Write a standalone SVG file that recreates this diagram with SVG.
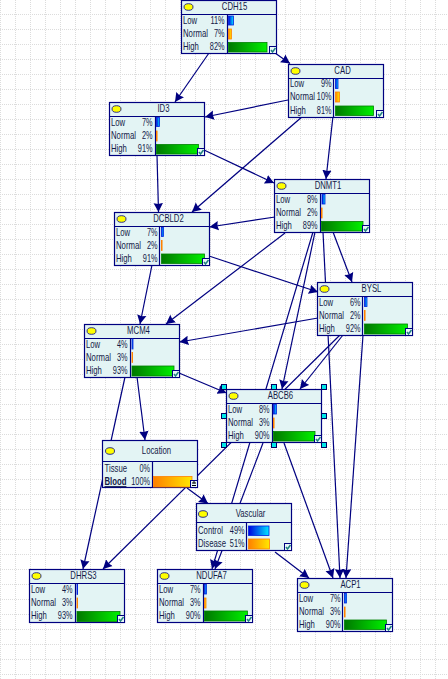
<svg xmlns="http://www.w3.org/2000/svg" width="448" height="679" viewBox="0 0 448 679">
<style>
text{font-family:"Liberation Sans",Arial,sans-serif;font-size:10.2px;fill:#141a48;transform-box:fill-box;transform-origin:0 50%;transform:scaleX(.76)}
.t{text-anchor:middle;transform-origin:50% 50%}
.p{text-anchor:end;transform-origin:100% 50%;transform:scaleX(.72)}
.f{fill:#e3f4f4;stroke:#000080;stroke-width:1.2}
.d{stroke:#000080;stroke-width:1.2;fill:none}
.e{fill:#ffff00;stroke:#000080;stroke-width:.8}
.bl{fill:url(#gb);stroke:#0020e0;stroke-width:.8}
.or{fill:url(#go);stroke:#ff8000;stroke-width:.8}
.gr{fill:url(#gg);stroke:#008000;stroke-width:.8}
.c line{stroke:#000080;stroke-width:1.2;marker-end:url(#a)}
.h{fill:#00e8e8;stroke:#000060;stroke-width:1}
.g{stroke:#dcdcdc;stroke-width:1;stroke-dasharray:1 1;fill:none}
</style>
<defs>
<linearGradient id="gb"><stop offset="0" stop-color="#0000e0"/><stop offset="1" stop-color="#00e8ff"/></linearGradient>
<linearGradient id="go"><stop offset="0" stop-color="#ff8000"/><stop offset="1" stop-color="#ffe800"/></linearGradient>
<linearGradient id="gg"><stop offset="0" stop-color="#007800"/><stop offset="1" stop-color="#00f000"/></linearGradient>
<marker id="a" markerUnits="userSpaceOnUse" markerWidth="11" markerHeight="11" refX="9" refY="5" orient="auto">
<path d="M0 0.3L9 5L0 9.7L1 5Z" fill="#000080"/>
</marker>
<g id="box3"><rect class="f" width="95" height="53"/><line class="d" x1="0" y1="14" x2="95" y2="14"/><ellipse class="e" cx="7" cy="6.5" rx="4.5" ry="3.3"/></g>
<g id="chk"><rect width="7" height="7" fill="#e8f8f8" stroke="#000080" stroke-width="1"/><path d="M1.5 3.5L3 5.5L6 1.5" fill="none" stroke="#208080" stroke-width="1.5"/></g>
</defs>
<rect width="448" height="679" fill="#fff"/>
<path class="g" d="M.5 0V679M15.5 0V679M30.5 0V679M45.5 0V679M60.5 0V679M75.5 0V679M90.5 0V679M105.5 0V679M120.5 0V679M135.5 0V679M150.5 0V679M165.5 0V679M180.5 0V679M195.5 0V679M210.5 0V679M225.5 0V679M240.5 0V679M255.5 0V679M270.5 0V679M285.5 0V679M300.5 0V679M315.5 0V679M330.5 0V679M345.5 0V679M360.5 0V679M375.5 0V679M390.5 0V679M405.5 0V679M420.5 0V679M435.5 0V679"/>
<path class="g" d="M0 14.5H448M0 29.5H448M0 44.5H448M0 59.5H448M0 74.5H448M0 89.5H448M0 104.5H448M0 119.5H448M0 134.5H448M0 149.5H448M0 164.5H448M0 179.5H448M0 194.5H448M0 209.5H448M0 224.5H448M0 239.5H448M0 254.5H448M0 269.5H448M0 284.5H448M0 299.5H448M0 314.5H448M0 329.5H448M0 344.5H448M0 359.5H448M0 374.5H448M0 389.5H448M0 404.5H448M0 419.5H448M0 434.5H448M0 449.5H448M0 464.5H448M0 479.5H448M0 494.5H448M0 509.5H448M0 524.5H448M0 539.5H448M0 554.5H448M0 569.5H448M0 584.5H448M0 599.5H448M0 614.5H448M0 629.5H448M0 644.5H448M0 659.5H448M0 674.5H448"/>
<g id="connectors" class="c">
<line x1="275" y1="53" x2="290" y2="63.5"/>
<line x1="209" y1="53" x2="175" y2="102"/>
<line x1="288" y1="100" x2="205" y2="117"/>
<line x1="333" y1="116" x2="326" y2="179"/>
<line x1="303" y1="116" x2="192" y2="212"/>
<line x1="157" y1="155" x2="158.5" y2="212"/>
<line x1="204" y1="150" x2="274" y2="183"/>
<line x1="275" y1="217" x2="209.5" y2="227"/>
<line x1="285" y1="233" x2="166" y2="324"/>
<line x1="333" y1="232" x2="352" y2="282"/>
<line x1="323" y1="232" x2="340" y2="578"/>
<line x1="313" y1="232" x2="212" y2="569"/>
<line x1="315" y1="232" x2="282" y2="389"/>
<line x1="263" y1="443" x2="215" y2="569"/>
<line x1="284" y1="443" x2="333" y2="578"/>
<line x1="363" y1="335" x2="346" y2="578"/>
<line x1="340" y1="335" x2="103" y2="569"/>
<line x1="343" y1="335" x2="300" y2="389"/>
<line x1="179" y1="373" x2="226.5" y2="393"/>
<line x1="137" y1="377" x2="145" y2="440"/>
<line x1="125" y1="377" x2="83" y2="569"/>
<line x1="318" y1="318" x2="179.5" y2="342"/>
<line x1="152" y1="265" x2="140" y2="324"/>
<line x1="209" y1="256" x2="318" y2="292"/>
<line x1="187" y1="488" x2="208" y2="503.5"/>
<line x1="275" y1="552" x2="309" y2="578"/>
</g>
<g id="CDH15" transform="translate(181.5 .5)"><use href="#box3"/><line class="d" x1="46" y1="14" x2="46" y2="53"/><text class="t" x="53" y="10">CDH15</text><text x="1.5" y="23.5">Low</text><text x="1.5" y="36.5">Normal</text><text x="1.5" y="50">High</text><text class="p" x="43" y="23.5">11%</text><text class="p" x="43" y="36.5">7%</text><text class="p" x="43" y="50">82%</text><rect class="bl" x="47" y="15.5" width="5" height="9"/><rect class="or" x="47" y="28.5" width="3" height="10"/><rect class="gr" x="47" y="42" width="38.5" height="9.5"/><use href="#chk" x="88" y="46"/></g>
<g id="CAD" transform="translate(288.5 64.5)"><use href="#box3"/><line class="d" x1="45" y1="14" x2="45" y2="53"/><text class="t" x="54" y="9.5">CAD</text><text x="1.5" y="23">Low</text><text x="1.5" y="36">Normal</text><text x="1.5" y="49.5">High</text><text class="p" x="43" y="23">9%</text><text class="p" x="43" y="36">10%</text><text class="p" x="43" y="49.5">81%</text><rect class="bl" x="47" y="14.5" width="2.5" height="9.5"/><rect class="or" x="47" y="27.5" width="4" height="10"/><rect class="gr" x="47" y="41.5" width="38" height="9.5"/><use href="#chk" x="88" y="46"/></g>
<g id="ID3" transform="translate(109.5 102.5)"><use href="#box3"/><line class="d" x1="46" y1="14" x2="46" y2="53"/><text class="t" x="54" y="9.5">ID3</text><text x="1.5" y="23.5">Low</text><text x="1.5" y="36.5">Normal</text><text x="1.5" y="50">High</text><text class="p" x="43" y="23.5">7%</text><text class="p" x="43" y="36.5">2%</text><text class="p" x="43" y="50">91%</text><rect class="bl" x="47" y="15" width="3" height="9"/><rect class="or" x="47" y="28.5" width=".6" height="10"/><rect class="gr" x="47" y="42" width="42" height="9.5"/><use href="#chk" x="88" y="46"/></g>
<g id="DNMT1" transform="translate(274.5 179.5)"><use href="#box3"/><line class="d" x1="46" y1="14" x2="46" y2="53"/><text class="t" x="53.5" y="9.5">DNMT1</text><text x="1.5" y="23.5">Low</text><text x="1.5" y="36.5">Normal</text><text x="1.5" y="50">High</text><text class="p" x="43" y="23.5">8%</text><text class="p" x="43" y="36.5">2%</text><text class="p" x="43" y="50">89%</text><rect class="bl" x="47.5" y="15" width="3" height="9.5"/><rect class="or" x="47" y="28.5" width=".6" height="10"/><rect class="gr" x="47" y="42" width="41.5" height="9.5"/><use href="#chk" x="88" y="46"/></g>
<g id="DCBLD2" transform="translate(114.5 212.5)"><use href="#box3"/><line class="d" x1="45" y1="14" x2="45" y2="53"/><text class="t" x="54" y="9.5">DCBLD2</text><text x="1.5" y="23.5">Low</text><text x="1.5" y="36.5">Normal</text><text x="1.5" y="50">High</text><text class="p" x="43" y="23.5">7%</text><text class="p" x="43" y="36.5">2%</text><text class="p" x="43" y="50">91%</text><rect class="bl" x="47" y="15" width="2" height="9"/><rect class="or" x="47" y="28" width=".6" height="10"/><rect class="gr" x="47" y="41.5" width="43" height="9.5"/><use href="#chk" x="88" y="46"/></g>
<g id="BYSL" transform="translate(317.5 282.5)"><use href="#box3"/><line class="d" x1="45" y1="14" x2="45" y2="53"/><text class="t" x="54" y="9.5">BYSL</text><text x="1.5" y="23.5">Low</text><text x="1.5" y="36.5">Normal</text><text x="1.5" y="50">High</text><text class="p" x="43" y="23.5">6%</text><text class="p" x="43" y="36.5">2%</text><text class="p" x="43" y="50">92%</text><rect class="bl" x="47" y="15" width="2.5" height="9"/><rect class="or" x="47" y="28" width=".6" height="10"/><rect class="gr" x="47" y="41.5" width="43" height="10"/><use href="#chk" x="88" y="46"/></g>
<g id="MCM4" transform="translate(84.5 324.5)"><use href="#box3"/><line class="d" x1="46" y1="14" x2="46" y2="53"/><text class="t" x="54" y="9.5">MCM4</text><text x="1.5" y="23.5">Low</text><text x="1.5" y="36.5">Normal</text><text x="1.5" y="50">High</text><text class="p" x="43" y="23.5">4%</text><text class="p" x="43" y="36.5">3%</text><text class="p" x="43" y="50">93%</text><rect class="bl" x="47.5" y="14.5" width="1" height="10"/><rect class="or" x="47.5" y="28" width=".6" height="10"/><rect class="gr" x="47.5" y="41.5" width="42" height="10"/><use href="#chk" x="88" y="46"/></g>
<g id="ABCB6" transform="translate(226.5 389.5)"><use href="#box3"/><line class="d" x1="46" y1="14" x2="46" y2="53"/><text class="t" x="54" y="9.5">ABCB6</text><text x="1.5" y="23.5">Low</text><text x="1.5" y="36.5">Normal</text><text x="1.5" y="50">High</text><text class="p" x="43" y="23.5">8%</text><text class="p" x="43" y="36.5">3%</text><text class="p" x="43" y="50">90%</text><rect class="bl" x="47" y="15" width="3" height="9.5"/><rect class="or" x="47" y="28.5" width=".6" height="10"/><rect class="gr" x="47" y="42" width="41.5" height="9.5"/><use href="#chk" x="88" y="46"/>
<rect class="h" x="-5" y="-5" width="5" height="5"/><rect class="h" x="45" y="-5" width="5" height="5"/><rect class="h" x="95" y="-5" width="5" height="5"/><rect class="h" x="-5" y="24" width="5" height="5"/><rect class="h" x="95" y="24" width="5" height="5"/><rect class="h" x="-5" y="53" width="5" height="5"/><rect class="h" x="45" y="53" width="5" height="5"/><rect class="h" x="95" y="53" width="5" height="5"/></g>
<g id="Location" transform="translate(102.5 440.5)"><rect class="f" width="95" height="47"/><line class="d" x1="0" y1="21" x2="95" y2="21"/><line class="d" x1="50" y1="21" x2="50" y2="47"/><ellipse class="e" cx="7.5" cy="10.5" rx="4.5" ry="3.3"/><text class="t" x="54" y="14">Location</text><text x="2" y="31.5">Tissue</text><text x="2" y="44.5" font-weight="bold" text-decoration="underline">Blood</text><text class="p" x="47.5" y="31.5">0%</text><text class="p" x="47.5" y="44.5">100%</text><rect class="or" x="51" y="36" width="38.5" height="10.5"/><rect x="88" y="40" width="7" height="7" fill="#e8f8f8" stroke="#000080"/><path d="M89.5 42.5H93.5M89.5 45H93.5M91.5 40.5V43" stroke="#000" fill="none"/></g>
<g id="Vascular" transform="translate(196.5 503.5)"><rect class="f" width="95" height="47"/><line class="d" x1="0" y1="19" x2="95" y2="19"/><line class="d" x1="50" y1="19" x2="50" y2="47"/><ellipse class="e" cx="6.5" cy="10.5" rx="4.5" ry="3.3"/><text class="t" x="54" y="13.5">Vascular</text><text x="1.5" y="31">Control</text><text x="1.5" y="44">Disease</text><text class="p" x="48" y="31">49%</text><text class="p" x="48" y="44">51%</text><rect class="bl" x="52" y="22.5" width="20.5" height="9.5"/><rect class="or" x="52" y="35.5" width="21" height="10"/><use href="#chk" x="88" y="40"/></g>
<g id="DHRS3" transform="translate(29.5 569.5)"><use href="#box3"/><line class="d" x1="46" y1="14" x2="46" y2="53"/><text class="t" x="54" y="9.5">DHRS3</text><text x="1.5" y="23.5">Low</text><text x="1.5" y="36.5">Normal</text><text x="1.5" y="50">High</text><text class="p" x="43" y="23.5">4%</text><text class="p" x="43" y="36.5">3%</text><text class="p" x="43" y="50">93%</text><rect class="bl" x="47.5" y="15" width=".6" height="10"/><rect class="or" x="47.5" y="28.5" width=".6" height="10"/><rect class="gr" x="47.5" y="42" width="43" height="10"/><use href="#chk" x="88" y="46"/></g>
<g id="NDUFA7" transform="translate(157.5 569.5)"><use href="#box3"/><line class="d" x1="46" y1="14" x2="46" y2="53"/><text class="t" x="54" y="9.5">NDUFA7</text><text x="1.5" y="23.5">Low</text><text x="1.5" y="36.5">Normal</text><text x="1.5" y="50">High</text><text class="p" x="43" y="23.5">7%</text><text class="p" x="43" y="36.5">3%</text><text class="p" x="43" y="50">90%</text><rect class="bl" x="47" y="15" width="2" height="9.5"/><rect class="or" x="47" y="28.5" width="1.5" height="10"/><rect class="gr" x="47" y="41.5" width="43" height="10"/><use href="#chk" x="88" y="46"/></g>
<g id="ACP1" transform="translate(297.5 578.5)"><use href="#box3"/><line class="d" x1="45" y1="14" x2="45" y2="53"/><text class="t" x="53" y="9.5">ACP1</text><text x="1.5" y="23.5">Low</text><text x="1.5" y="36.5">Normal</text><text x="1.5" y="50">High</text><text class="p" x="43" y="23.5">7%</text><text class="p" x="43" y="36.5">3%</text><text class="p" x="43" y="50">90%</text><rect class="bl" x="47" y="15" width="2" height="9.5"/><rect class="or" x="47" y="28.5" width=".6" height="10"/><rect class="gr" x="47" y="41.5" width="42" height="9.5"/><use href="#chk" x="88" y="46"/></g>
</svg>
